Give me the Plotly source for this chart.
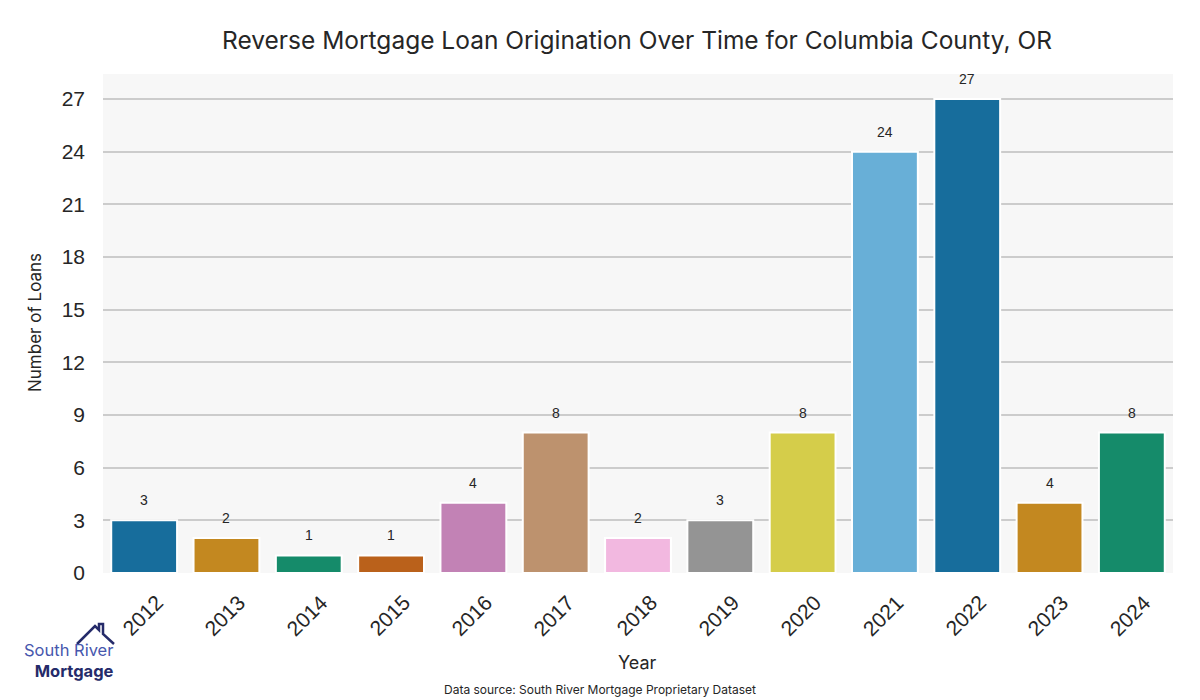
import colorsys
import plotly.graph_objects as go

years = ["2012", "2013", "2014", "2015", "2016", "2017", "2018", "2019", "2020", "2021", "2022", "2023", "2024"]
loans = [3, 2, 1, 1, 4, 8, 2, 3, 8, 24, 27, 4, 8]
y_ticks = [0, 3, 6, 9, 12, 15, 18, 21, 24, 27]

base_palette = ["#0173b2", "#de8f05", "#029e73", "#d55e00", "#cc78bc", "#ca9161",
                "#fbafe4", "#949494", "#ece133", "#56b4e9"]


def desaturate(hexc, prop=0.75):
    r, g, b = (int(hexc[i:i + 2], 16) / 255 for i in (1, 3, 5))
    h, l, s = colorsys.rgb_to_hls(r, g, b)
    r, g, b = colorsys.hls_to_rgb(h, l, s * prop)
    return "#%02x%02x%02x" % (round(r * 255), round(g * 255), round(b * 255))


colors = [desaturate(base_palette[i % len(base_palette)]) for i in range(len(years))]

TXT = "#262626"
L, R, T, B = 103, 1173, 74, 573


def px(xp):
    return (xp - L) / (R - L)


def py(yp):
    return (B - yp) / (B - T)


fig = go.Figure()
fig.add_trace(go.Bar(
    x=years, y=loans, width=0.8,
    marker=dict(color=colors, line=dict(color="white", width=2)),
    hoverinfo="x+y", showlegend=False,
))

annotations = []
for i, (yr, v) in enumerate(zip(years, loans)):
    annotations.append(dict(x=i, y=v, xref="x", yref="y", text=str(v), showarrow=False,
                            yshift=20, xanchor="center", yanchor="middle",
                            font=dict(family="Liberation Sans, Arial", size=14, color=TXT)))
    annotations.append(dict(x=i, y=0, xref="x", yref="paper", text=yr, showarrow=False,
                            textangle=-45, yshift=-42, xshift=-2, xanchor="center", yanchor="middle",
                            font=dict(family="Liberation Sans, Arial", size=21, color=TXT)))

annotations.append(dict(text="Year", x=px(637), xref="paper", y=py(662), yref="paper",
                        xanchor="center", yanchor="middle",
                        showarrow=False, font=dict(family="Inter", size=18, color=TXT)))
annotations.append(dict(text="Data source: South River Mortgage Proprietary Dataset",
                        x=px(600), xref="paper", y=py(689), yref="paper",
                        xanchor="center", yanchor="middle",
                        showarrow=False, font=dict(family="Inter", size=12, color=TXT)))
# logo text (one block, two colours)
annotations.append(dict(text="<span style='color:#4757ad'>South River</span><br>"
                             "<span style='color:#252b6a'><b>Mortgage</b></span>",
                        x=px(115), xref="paper", y=py(660), yref="paper",
                        xanchor="right", yanchor="middle", align="right", showarrow=False,
                        borderpad=0,
                        font=dict(family="Inter", size=16.5, color="#252b6a")))
annotations.append(dict(text="Number of Loans", x=px(35), xref="paper", y=py(323), yref="paper",
                        xanchor="center", yanchor="middle", textangle=-90, showarrow=False,
                        font=dict(family="Inter", size=17, color=TXT)))

house_pts = [(77, 644), (95, 626), (99, 630), (99, 624), (103, 624), (103, 634), (114, 644)]
path = "M " + " L ".join("%f,%f" % (px(a), py(b)) for a, b in house_pts)
shapes = [dict(type="path", xref="paper", yref="paper", path=path,
               line=dict(color="#252b6a", width=2.5))]

fig.update_layout(
    width=1200, height=700,
    margin=dict(l=L, r=1200 - R, t=T, b=700 - B),
    paper_bgcolor="white", plot_bgcolor="#f7f7f7",
    title=dict(text="Reverse Mortgage Loan Origination Over Time for Columbia County, OR",
               x=637 / 1200, xanchor="center", y=1 - 40 / 700, yanchor="middle",
               font=dict(family="Inter", size=24.5, color=TXT)),
    xaxis=dict(type="category", showticklabels=False, showgrid=False, zeroline=False, showline=False,
               range=[-0.5, len(years) - 0.5], fixedrange=True),
    yaxis=dict(range=[0, 28.43], tickvals=y_ticks, showgrid=True, gridcolor="#cccccc", gridwidth=1.5,
               zeroline=False, showline=False, ticks="", ticklen=0, ticklabelstandoff=17,
               tickfont=dict(family="Liberation Sans, Arial", size=21, color=TXT)),
    annotations=annotations,
    shapes=shapes,
    bargap=0.2,
)

fig.write_html("out.html", config={"displayModeBar": False},
               post_script="document.body.style.margin='0px';")
